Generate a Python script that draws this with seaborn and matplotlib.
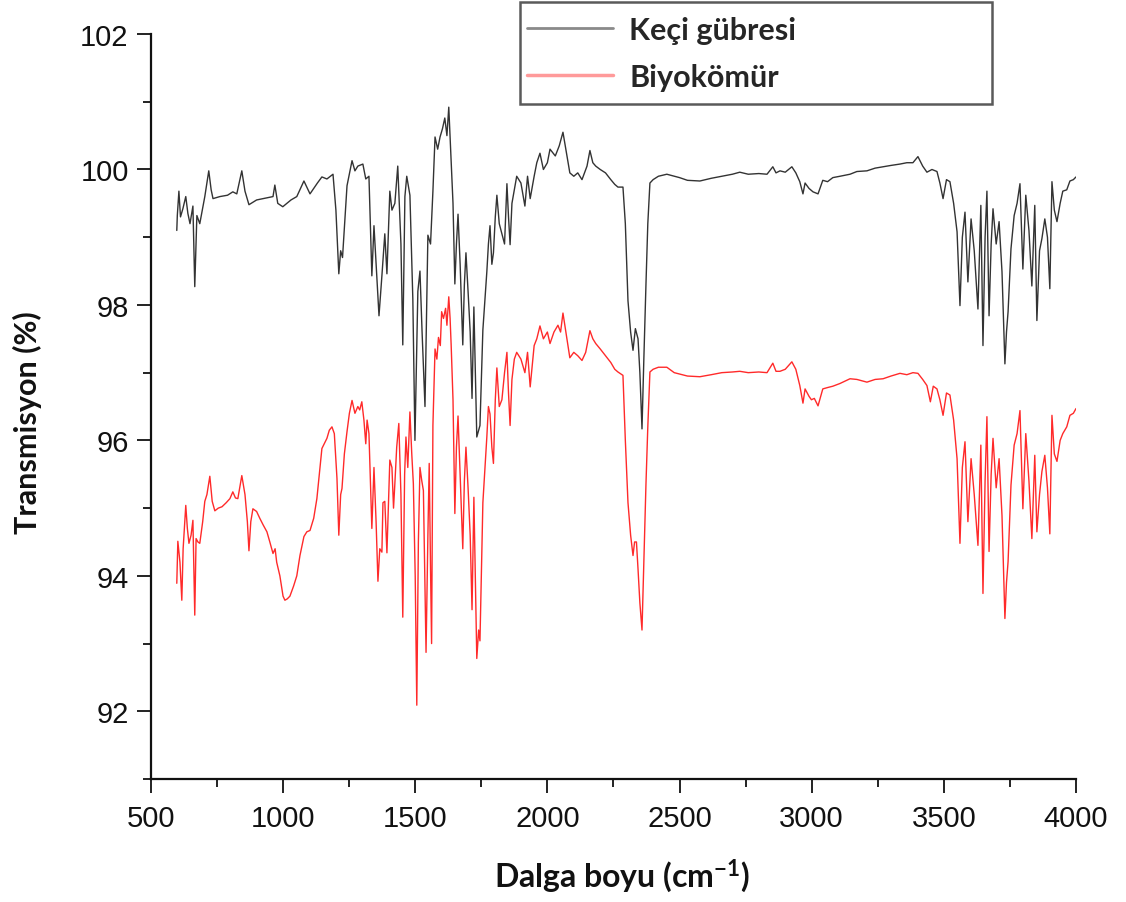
import matplotlib
matplotlib.use("Agg")
import matplotlib.pyplot as plt
from matplotlib.lines import Line2D
from matplotlib.patches import Rectangle
from matplotlib.ticker import MultipleLocator
import seaborn as sns

# FTIR spectra
keci_wn = [
    598, 600, 606, 612, 621, 632, 640, 648, 659, 666,
    674, 685, 704, 719, 728, 735, 761, 790, 810, 825,
    844, 856, 871, 900, 924, 962, 969, 980, 999, 1030,
    1052, 1079, 1102, 1130, 1147, 1166, 1189, 1200, 1211, 1218,
    1225, 1242, 1261, 1272, 1283, 1302, 1313, 1325, 1336, 1344,
    1352, 1363, 1374, 1385, 1393, 1404, 1412, 1423, 1434, 1446,
    1453, 1461, 1468, 1480, 1491, 1499, 1505, 1510, 1518, 1526,
    1537, 1548, 1558, 1567, 1575, 1585, 1594, 1603, 1612, 1620,
    1627, 1636, 1643, 1650, 1656, 1662, 1670, 1680, 1686, 1692,
    1700, 1708, 1715, 1722, 1733, 1745, 1756, 1764, 1771, 1777,
    1783, 1790, 1796, 1803, 1809, 1818, 1828, 1838, 1847, 1853,
    1859, 1866, 1875, 1884, 1900, 1915, 1925, 1935, 1950, 1960,
    1972, 1985, 2000, 2010, 2030, 2045, 2059, 2070, 2085, 2100,
    2115, 2131, 2150, 2161, 2172, 2183, 2200, 2220, 2240, 2255,
    2267, 2286, 2295, 2305, 2315, 2324, 2333, 2343, 2350, 2358,
    2365, 2373, 2380, 2388, 2400, 2420, 2452, 2480, 2500, 2530,
    2577, 2620, 2660, 2700, 2728, 2760, 2800, 2831, 2853, 2865,
    2880, 2900, 2925, 2940, 2955, 2967, 2975, 2990, 3005, 3024,
    3042, 3060, 3080, 3107, 3145, 3171, 3209, 3240, 3270, 3300,
    3334, 3360, 3383, 3402, 3420, 3436, 3455, 3474, 3485, 3497,
    3510, 3523, 3537, 3550, 3561, 3570, 3580, 3591, 3603, 3615,
    3629, 3640, 3648, 3656, 3663, 3671, 3679, 3686, 3698, 3709,
    3720, 3731, 3737, 3743, 3754, 3766, 3777, 3788, 3799, 3810,
    3822, 3833, 3844, 3852, 3862, 3871, 3882, 3892, 3901, 3909,
    3918, 3928, 3940, 3950, 3965, 3977, 3990, 4000,
]
keci_t = [
    99.10, 99.32, 99.68, 99.30, 99.42, 99.60, 99.35, 99.20, 99.46, 98.27,
    99.32, 99.20, 99.60, 99.98, 99.70, 99.57, 99.60, 99.62, 99.67, 99.64,
    99.98, 99.68, 99.48, 99.55, 99.57, 99.60, 99.77, 99.50, 99.45, 99.55,
    99.60, 99.83, 99.64, 99.80, 99.89, 99.86, 99.93, 99.40, 98.46, 98.80,
    98.70, 99.76, 100.13, 99.98, 100.05, 100.08, 99.86, 99.90, 98.43, 99.17,
    98.60, 97.84, 98.43, 99.05, 98.46, 99.68, 99.40, 99.50, 100.05, 98.90,
    97.41, 99.60, 99.90, 99.62, 98.09, 96.00, 97.20, 98.20, 98.50, 97.60,
    96.50, 99.03, 98.90, 99.68, 100.48, 100.30, 100.48, 100.60, 100.76, 100.50,
    100.92, 100.13, 99.50, 98.31, 98.90, 99.34, 98.60, 97.41, 98.30, 98.77,
    98.20, 97.60, 96.62, 97.97, 96.05, 96.22, 97.63, 98.10, 98.49, 98.90,
    99.17, 98.60, 98.77, 99.30, 99.62, 99.20, 99.05, 98.90, 99.79, 99.30,
    98.89, 99.50, 99.70, 99.90, 99.80, 99.46, 99.90, 99.57, 99.90, 100.10,
    100.24, 100.00, 100.10, 100.30, 100.20, 100.35, 100.55, 100.30, 99.95, 99.90,
    99.95, 99.85, 100.05, 100.28, 100.10, 100.05, 100.00, 99.95, 99.85, 99.78,
    99.74, 99.74, 99.20, 98.06, 97.60, 97.33, 97.65, 97.50, 97.00, 96.17,
    97.20, 98.30, 99.20, 99.80, 99.85, 99.90, 99.93, 99.90, 99.88, 99.84,
    99.83, 99.87, 99.90, 99.93, 99.96, 99.93, 99.94, 99.93, 100.04, 99.95,
    99.98, 99.96, 100.04, 99.95, 99.82, 99.64, 99.80, 99.72, 99.67, 99.64,
    99.84, 99.82, 99.88, 99.90, 99.93, 99.97, 99.98, 100.02, 100.04, 100.06,
    100.08, 100.10, 100.10, 100.19, 100.05, 99.96, 100.00, 99.97, 99.80, 99.57,
    99.85, 99.82, 99.50, 99.08, 97.99, 99.00, 99.37, 98.34, 99.27, 98.80,
    97.94, 99.47, 97.40, 99.00, 99.68, 97.84, 98.90, 99.42, 98.90, 99.23,
    98.49, 97.13, 97.60, 97.90, 98.83, 99.32, 99.50, 99.79, 98.53, 99.62,
    99.10, 98.28, 99.47, 97.77, 98.80, 98.98, 99.27, 99.00, 98.24, 99.82,
    99.40, 99.23, 99.50, 99.68, 99.70, 99.83, 99.85, 99.89,
]

biyo_wn = [
    598, 602, 610, 617, 622, 632, 638, 644, 652, 659,
    666, 671, 678, 685, 696, 704, 712, 723, 732, 742,
    755, 769, 785, 799, 810, 820, 829, 844, 856, 865,
    871, 878, 886, 900, 912, 925, 939, 950, 962, 970,
    976, 988, 1000, 1007, 1016, 1026, 1040, 1052, 1064, 1079,
    1090, 1102, 1116, 1128, 1140, 1147, 1157, 1166, 1175, 1185,
    1194, 1204, 1211, 1218, 1223, 1232, 1242, 1251, 1261, 1272,
    1283, 1290, 1298, 1306, 1313, 1318, 1325, 1336, 1344, 1352,
    1359, 1366, 1374, 1378, 1385, 1393, 1404, 1412, 1418, 1423,
    1430, 1438, 1446, 1453, 1460, 1465, 1472, 1480, 1487, 1493,
    1500, 1506, 1512, 1518, 1525, 1531, 1541, 1548, 1553, 1558,
    1562, 1567, 1575, 1582, 1588, 1595, 1600, 1607, 1615, 1620,
    1627, 1632, 1636, 1643, 1650, 1656, 1662, 1670, 1680, 1686,
    1692, 1700, 1708, 1715, 1722, 1733, 1740, 1745, 1750, 1756,
    1764, 1771, 1777, 1783, 1790, 1796, 1803, 1809, 1818, 1828,
    1838, 1847, 1853, 1859, 1866, 1875, 1884, 1900, 1915, 1925,
    1935, 1950, 1960, 1972, 1985, 2000, 2010, 2025, 2040, 2050,
    2059, 2070, 2085, 2100, 2115, 2131, 2145, 2161, 2172, 2183,
    2200, 2220, 2240, 2255, 2267, 2286, 2295, 2305, 2315, 2324,
    2330, 2337, 2343, 2350, 2358, 2365, 2373, 2380, 2388, 2400,
    2420, 2452, 2480, 2500, 2530, 2577, 2620, 2660, 2700, 2728,
    2760, 2800, 2831, 2853, 2865, 2880, 2900, 2925, 2940, 2955,
    2967, 2975, 2990, 2999, 3010, 3024, 3042, 3060, 3080, 3107,
    3145, 3171, 3209, 3240, 3270, 3300, 3334, 3360, 3383, 3402,
    3420, 3436, 3449, 3460, 3474, 3485, 3497, 3510, 3523, 3537,
    3550, 3561, 3570, 3580, 3591, 3603, 3615, 3629, 3640, 3648,
    3656, 3663, 3671, 3679, 3686, 3698, 3709, 3720, 3731, 3737,
    3743, 3754, 3766, 3777, 3788, 3799, 3810, 3822, 3833, 3844,
    3852, 3862, 3871, 3882, 3892, 3901, 3909, 3918, 3928, 3940,
    3950, 3965, 3977, 3990, 4000,
]
biyo_t = [
    93.89, 94.51, 94.20, 93.64, 94.40, 95.04, 94.70, 94.48, 94.60, 94.82,
    93.42, 94.55, 94.50, 94.48, 94.80, 95.10, 95.20, 95.47, 95.10, 94.96,
    95.00, 95.02, 95.08, 95.14, 95.24, 95.15, 95.14, 95.48, 95.20, 94.80,
    94.37, 94.80, 94.99, 94.95, 94.85, 94.75, 94.65, 94.50, 94.33, 94.40,
    94.20, 94.00, 93.70, 93.64, 93.66, 93.70, 93.85, 94.00, 94.30, 94.58,
    94.65, 94.67, 94.85, 95.14, 95.60, 95.88, 95.96, 96.03, 96.15, 96.20,
    96.10, 95.44, 94.60, 95.20, 95.29, 95.80, 96.13, 96.40, 96.59, 96.40,
    96.50, 96.45, 96.57, 96.30, 95.95, 96.30, 96.10, 94.70, 95.60, 94.80,
    93.92, 94.40, 94.35, 95.08, 95.10, 94.34, 95.71, 95.60, 95.00, 95.36,
    95.90, 96.25, 95.20, 93.39, 95.50, 96.05, 95.60, 96.42, 95.80, 95.36,
    94.00, 92.09, 94.50, 95.60, 95.40, 95.26, 92.87, 94.60, 95.66, 94.10,
    93.00, 96.22, 97.35, 97.20, 97.52, 97.40, 97.90, 97.80, 97.95, 97.70,
    98.12, 97.80, 97.41, 96.60, 94.92, 95.90, 96.36, 95.50, 94.40, 95.40,
    95.90, 95.30, 94.60, 93.50, 95.16, 92.78, 93.20, 93.04, 94.00, 95.08,
    95.60, 96.05, 96.50, 96.39, 95.90, 95.66, 96.60, 97.07, 96.50, 96.60,
    97.00, 97.30, 96.70, 96.22, 96.90, 97.20, 97.30, 97.20, 97.00, 97.30,
    96.79, 97.40, 97.50, 97.69, 97.50, 97.60, 97.43, 97.60, 97.70, 97.60,
    97.88, 97.60, 97.22, 97.30, 97.25, 97.18, 97.30, 97.62, 97.50, 97.43,
    97.35, 97.25, 97.15, 97.05, 97.01, 96.96, 96.00, 95.08, 94.60, 94.30,
    94.50, 94.50, 94.10, 93.60, 93.20, 94.20, 95.35, 96.20, 97.01, 97.05,
    97.08, 97.08, 97.00, 96.98, 96.95, 96.94, 96.97, 97.00, 97.01, 97.02,
    97.00, 97.01, 97.00, 97.14, 97.02, 97.02, 97.05, 97.16, 97.05, 96.81,
    96.55, 96.76, 96.65, 96.60, 96.62, 96.51, 96.76, 96.78, 96.80, 96.84,
    96.91, 96.90, 96.86, 96.90, 96.91, 96.95, 96.99, 96.97, 97.00, 96.99,
    96.90, 96.81, 96.57, 96.80, 96.76, 96.60, 96.37, 96.70, 96.67, 96.30,
    95.73, 94.48, 95.60, 95.98, 94.80, 95.73, 95.20, 94.45, 95.93, 93.74,
    95.40, 96.35, 94.36, 95.50, 96.03, 95.30, 95.73, 94.89, 93.37, 93.90,
    94.21, 95.34, 95.93, 96.10, 96.44, 94.99, 96.10, 95.40, 94.55, 95.78,
    94.65, 95.20, 95.54, 95.78, 95.30, 94.62, 96.37, 95.80, 95.69, 96.00,
    96.10, 96.20, 96.37, 96.40, 96.47,
]

series_names = ["Keçi gübresi", "Biyokömür"]
x_ticks = [500, 1000, 1500, 2000, 2500, 3000, 3500, 4000]
y_ticks = [92, 94, 96, 98, 100, 102]

sns.set_style("ticks")
plt.rcParams["font.family"] = ["Liberation Sans", "DejaVu Sans"]
plt.rcParams["mathtext.fontset"] = "custom"
plt.rcParams["mathtext.rm"] = "Lato:bold"
plt.rcParams["mathtext.default"] = "regular"

fig = plt.figure(figsize=(11.26, 9.03), dpi=100)
ax = fig.add_axes([0.134, 0.1362, 0.8216, 0.825])

sns.lineplot(x=keci_wn, y=keci_t, ax=ax, color="#333333", lw=1.0,
             estimator=None, sort=False, legend=False)
sns.lineplot(x=biyo_wn, y=biyo_t, ax=ax, color="#ff2a2a", lw=1.0,
             estimator=None, sort=False, legend=False)

ax.set_xlim(500, 4000)
ax.set_ylim(91, 102)
ax.set_xticks(x_ticks)
ax.set_yticks(y_ticks)
ax.xaxis.set_minor_locator(MultipleLocator(250))
ax.yaxis.set_minor_locator(MultipleLocator(1))
ax.tick_params(which="major", direction="out", length=10, width=1.3,
               labelsize=21, colors="#111111")
ax.tick_params(which="minor", direction="out", length=5.5, width=1.3,
               colors="#111111")
ax.tick_params(axis="x", pad=8)
ax.tick_params(axis="y", pad=6)
sns.despine(ax=ax)
for side in ["left", "bottom"]:
    ax.spines[side].set_linewidth(1.6)
    ax.spines[side].set_color("#111111")

ax.set_xlabel(r"Dalga boyu (cm$^{-1}$)", fontfamily="Lato", fontweight="bold",
              fontsize=23, color="#111111")
ax.set_ylabel("Transmisyon (%)", fontfamily="Lato", fontweight="bold",
              fontsize=22, color="#111111")
ax.xaxis.set_label_coords(0.509, -0.104)
ax.yaxis.set_label_coords(-0.118, 0.48)

# legend box sits above the plot, wider than its content
handles = [Line2D([], [], color="#8a8a8a", lw=2),
           Line2D([], [], color="#ff9a9a", lw=2.5)]
fig.legend(handles, series_names, loc="upper left",
           bbox_to_anchor=(527 / 1126, 1 - 17 / 903), frameon=False,
           borderpad=0, borderaxespad=0, handlelength=2.8, handletextpad=0.55,
           labelspacing=0.62,
           prop={"family": "Lato", "weight": "bold", "size": 22})
fig.add_artist(Rectangle((520 / 1126, 1 - 105 / 903), 472 / 1126, 102 / 903,
                         transform=fig.transFigure, fill=False,
                         edgecolor="#5a5a5a", lw=1.8))

fig.savefig("out.png", dpi=100)
